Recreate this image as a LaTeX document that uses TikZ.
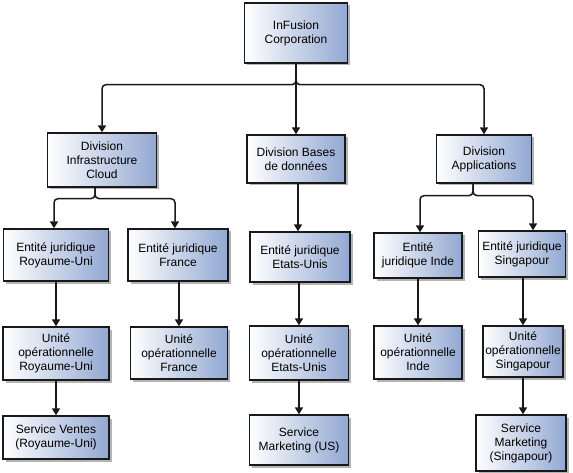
\documentclass[tikz,border=0pt]{standalone}
\usepackage{fontspec}
\setmainfont{Liberation Sans}
\usepackage{xcolor}
\usepackage{tikz}
\definecolor{bleuorg}{RGB}{146,168,210}
\definecolor{ombreorg}{RGB}{180,180,180}
\definecolor{traitorg}{RGB}{25,25,25}
\usetikzlibrary{shapes,shadows,arrows.meta}

\begin{document}
\begin{tikzpicture}[x=1pt,y=-1pt,
        entite/.style={rectangle, draw=traitorg, line width=1.3pt, left color=white, right color=bleuorg,
            drop shadow={shadow xshift=2.5pt, shadow yshift=-2.5pt, fill=ombreorg, opacity=1},
            align=center, inner sep=0pt, font=\fontsize{12}{14}\selectfont},
        lien/.style={draw=traitorg, line width=1.5pt, rounded corners=4pt, -{Triangle[length=7pt,width=8pt]}}]
        \useasboundingbox (0,0) rectangle (573,473);
        \node[entite, minimum width=103pt, minimum height=60pt] (corp) at (296,33) {InFusion\\Corporation};
        \node[entite, minimum width=109pt, minimum height=54pt] (divinfra) at (102,160) {Division\\Infrastructure\\Cloud};
        \node[entite, minimum width=98pt, minimum height=48pt] (divbd) at (296,159) {Division Bases\\de données};
        \node[entite, minimum width=95pt, minimum height=48pt] (divapp) at (484,159) {Division\\Applications};
        \node[entite, minimum width=105pt, minimum height=52pt] (ejru) at (56,255) {Entité juridique\\Royaume-Uni};
        \node[entite, minimum width=100pt, minimum height=52pt] (ejfr) at (178,255) {Entité juridique\\France};
        \node[entite, minimum width=100pt, minimum height=50pt] (ejus) at (300,257) {Entité juridique\\Etats-Unis};
        \node[entite, minimum width=88pt, minimum height=45pt] (ejin) at (418,255.5) {Entité\\juridique Inde};
        \node[entite, minimum width=87pt, minimum height=46pt] (ejsg) at (522,254) {Entité juridique\\Singapour};
        \node[entite, minimum width=106pt, minimum height=53pt] (uoru) at (56,353.5) {Unité\\opérationnelle\\Royaume-Uni};
        \node[entite, minimum width=97pt, minimum height=52pt] (uofr) at (179,353) {Unité\\opérationnelle\\France};
        \node[entite, minimum width=99pt, minimum height=54pt] (uous) at (299,353) {Unité\\opérationnelle\\Etats-Unis};
        \node[entite, minimum width=88pt, minimum height=53pt] (uoin) at (418,352.5) {Unité\\opérationnelle\\Inde};
        \node[entite, minimum width=80pt, minimum height=51pt] (uosg) at (523,351.5) {Unité\\opérationnelle\\Singapour};
        \node[entite, minimum width=106pt, minimum height=43pt] (svru) at (56,437.5) {Service Ventes\\(Royaume-Uni)};
        \node[entite, minimum width=99pt, minimum height=50pt] (svus) at (299,440) {Service\\Marketing (US)};
        \node[entite, minimum width=90pt, minimum height=56pt] (svsg) at (521,443) {Service\\Marketing\\(Singapour)};
        \draw[lien] (corp.south) -- ++(0,21) -| (divinfra.north);
        \draw[lien] (corp.south) -- ++(0,21) -| (divapp.north);
        \draw[lien] (corp.south) -- (corp.south |- divbd.north);
        \draw[lien] ([xshift=-7pt]divinfra.south) -- ++(0,11) -| ([xshift=-2pt]ejru.north);
        \draw[lien] ([xshift=-7pt]divinfra.south) -- ++(0,11) -| ([xshift=-3pt]ejfr.north);
        \draw[lien] ([xshift=2pt]divbd.south) -- ([xshift=2pt]divbd.south |- ejus.north);
        \draw[lien] ([xshift=-11pt]divapp.south) -- ++(0,12) -| ([xshift=2pt]ejin.north);
        \draw[lien] ([xshift=-11pt]divapp.south) -- ++(0,12) -| ([xshift=11pt]ejsg.north);
        \draw[lien] (uoru.north |- ejru.south) -- (uoru.north);
        \draw[lien] (uofr.north |- ejfr.south) -- (uofr.north);
        \draw[lien] (uous.north |- ejus.south) -- (uous.north);
        \draw[lien] (uoin.north |- ejin.south) -- (uoin.north);
        \draw[lien] (uosg.north |- ejsg.south) -- (uosg.north);
        \draw[lien] (svru.north |- uoru.south) -- (svru.north);
        \draw[lien] (svus.north |- uous.south) -- (svus.north);
        \draw[lien] (uosg.south) -- (uosg.south |- svsg.north);
\end{tikzpicture}
\end{document}
